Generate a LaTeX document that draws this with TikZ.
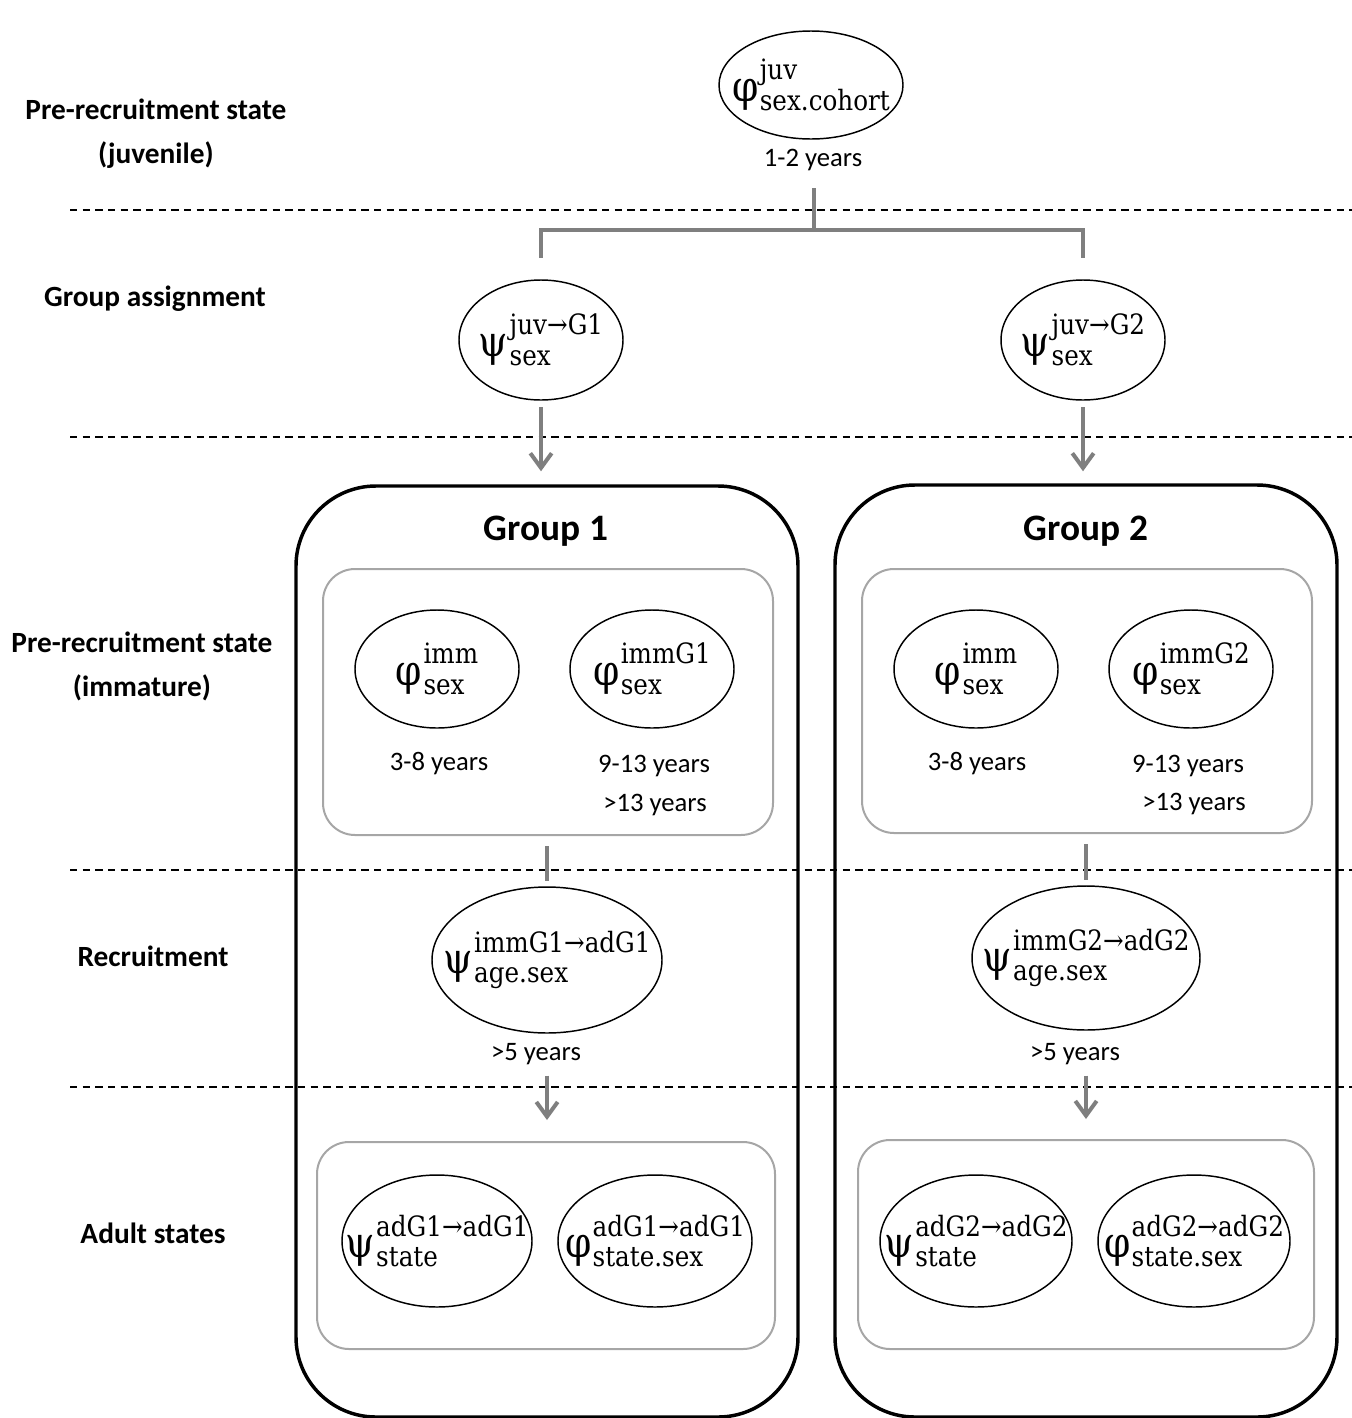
\documentclass[tikz,border=0pt]{standalone}
\usepackage{fontspec}
\setmainfont{Carlito}
\newfontfamily\cambf[FakeStretch=0.88]{DejaVu Serif}
\usetikzlibrary{arrows.meta,shapes.geometric}
\definecolor{conngray}{HTML}{7F7F7F}
\definecolor{boxgray}{HTML}{A6A6A6}
\newcommand\pq[3]{\makebox[0pt]{{\fontsize{32pt}{32pt}\selectfont\cambf #1}\kern1pt{\fontsize{21pt}{21pt}\selectfont\cambf\raisebox{-7pt}{\ooalign{\raisebox{23pt}{#2}\cr#3\cr}}}}}
\begin{document}
\begin{tikzpicture}[x=0.75pt,y=-0.75pt,
  ell/.style 2 args={draw,ellipse,line width=1.1pt,inner sep=0pt,minimum width=#1*1.5pt,minimum height=#2*1.5pt},
  lab/.style={align=center,font=\fontsize{22pt}{33pt}\selectfont\bfseries,inner sep=0pt},
  yrs/.style={font=\fontsize{20pt}{24pt}\selectfont,inner sep=0pt},
  grptitle/.style={font=\fontsize{28pt}{28pt}\selectfont\bfseries,inner sep=0pt},
  grp/.style={draw,line width=2.6pt,rounded corners=60pt,inner sep=0pt},
  subbox/.style={draw=boxgray,line width=1.5pt,rounded corners=24pt,inner sep=0pt},
  conn/.style={draw=conngray,line width=3pt},
  arr/.style={conn,-{Straight Barb[length=11pt,width=16pt]}},
  dl/.style={line width=1.1pt,dash pattern=on 5.5pt off 4pt}
]
\useasboundingbox (0,0) rectangle (1352,1418);

% dashed separators
\draw[dl] (70,210) -- (1352,210);
\draw[dl] (70,437) -- (1352,437);
\draw[dl] (70,870) -- (1352,870);
\draw[dl] (70,1087) -- (1352,1087);

% left labels
\node[lab] (lj) at (156,134) {Pre-recruitment state\\(juvenile)};
\node[lab] (lg) at (155,299) {Group assignment};
\node[lab] (li) at (142,666) {Pre-recruitment state\\(immature)};
\node[lab] (lr) at (153,956) {Recruitment};
\node[lab] (la) at (153,1233) {Adult states};

% group boxes
\node[grp,minimum width=502*0.75pt,minimum height=931*0.75pt] (g1) at (547,951.5) {};
\node[grp,minimum width=502*0.75pt,minimum height=932*0.75pt] (g2) at (1086,951) {};
\node[grptitle] (t1) at (546,531) {Group 1};
\node[grptitle] (t2) at (1086,531) {Group 2};

% inner boxes
\node[subbox,minimum width=450*0.75pt,minimum height=266*0.75pt] (imm1) at (548,702) {};
\node[subbox,minimum width=450*0.75pt,minimum height=264*0.75pt] (imm2) at (1087,701) {};
\node[subbox,minimum width=458*0.75pt,minimum height=207*0.75pt] (ad1) at (546,1245.5) {};
\node[subbox,minimum width=456*0.75pt,minimum height=209*0.75pt] (ad2) at (1086,1244.5) {};

% top
\node[ell={92}{54}] (juv) at (811,85) {\pq{φ}{juv}{sex.cohort}};
\node[yrs] (y0) at (813,160) {1-2 years};

% group assignment
\node[ell={82}{60}] (psiA) at (541,340) {\pq{ψ}{juv→G1}{sex}};
\node[ell={82}{60}] (psiB) at (1083,340) {\pq{ψ}{juv→G2}{sex}};

% immature
\node[ell={82}{59}] (i1a) at (437,669) {\pq{φ}{imm}{sex}};
\node[ell={82}{59}] (i1b) at (652,669) {\pq{φ}{immG1}{sex}};
\node[ell={82}{59}] (i2a) at (976,669) {\pq{φ}{imm}{sex}};
\node[ell={82}{59}] (i2b) at (1191,669) {\pq{φ}{immG2}{sex}};
\node[yrs] (y1a) at (439,764) {3-8 years};
\node[yrs] (y1b) at (654,766) {9-13 years};
\node[yrs] (y1c) at (655,805) {>13 years};
\node[yrs] (y2a) at (977,764) {3-8 years};
\node[yrs] (y2b) at (1188,766) {9-13 years};
\node[yrs] (y2c) at (1194,804) {>13 years};

% recruitment
\node[ell={115}{73}] (rec1) at (547,960) {\pq{ψ}{immG1→adG1}{age.sex}};
\node[ell={114}{72}] (rec2) at (1086,958) {\pq{ψ}{immG2→adG2}{age.sex}};
\node[yrs] (y5a) at (536,1054) {>5 years};
\node[yrs] (y5b) at (1075,1054) {>5 years};

% adult
\node[ell={95}{66}] (a1a) at (437,1241) {\pq{ψ}{adG1→adG1}{state}};
\node[ell={97}{66}] (a1b) at (655,1241) {\pq{φ}{adG1→adG1}{state.sex}};
\node[ell={96}{66}] (a2a) at (976,1241) {\pq{ψ}{adG2→adG2}{state}};
\node[ell={96}{66}] (a2b) at (1194,1241) {\pq{φ}{adG2→adG2}{state.sex}};

% connectors
\coordinate (brtop) at (814,188);
\coordinate (brmid) at (814,230);
\draw[conn,shorten >=16pt] (brtop) -- (brmid) -| (psiA.north);
\draw[conn,shorten >=16pt] (brmid) -| (psiB.north);
\draw[arr,shorten <=5pt,shorten >=9.75pt] (psiA.south) -- (psiA.south |- g1.north);
\draw[arr,shorten <=5pt,shorten >=9pt] (psiB.south) -- (psiB.south |- g2.north);
\draw[conn,shorten <=7.5pt,shorten >=3.75pt] (rec1.north |- imm1.south) -- (rec1.north);
\draw[conn,shorten <=7.5pt,shorten >=3.75pt] (rec2.north |- imm2.south) -- (rec2.north);
\draw[arr,shorten <=31.5pt,shorten >=15.75pt] (rec1.south) -- (rec1.south |- ad1.north);
\draw[arr,shorten <=33.75pt,shorten >=15pt] (rec2.south) -- (rec2.south |- ad2.north);
\end{tikzpicture}
\end{document}
